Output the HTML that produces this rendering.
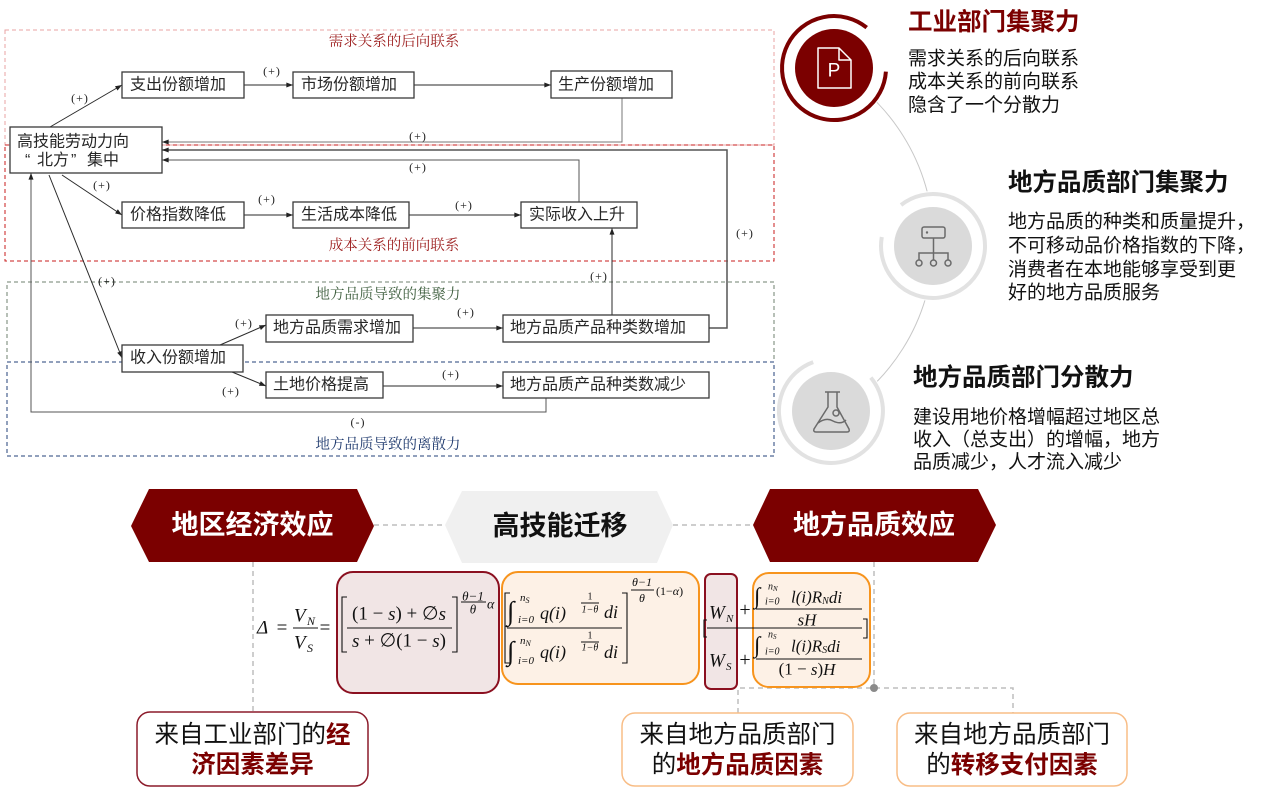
<!DOCTYPE html>
<html><head><meta charset="utf-8">
<style>
html,body{margin:0;padding:0;background:#fff;}
svg{display:block;}
.nd{font-family:"Liberation Sans","Noto Sans CJK SC",sans-serif;font-size:16px;fill:#262626;}
.lb{font-family:"Liberation Serif","Noto Serif CJK SC",serif;font-size:14.5px;}
.pl{font-family:"Liberation Serif","DejaVu Serif",serif;font-size:12px;fill:#222;letter-spacing:1px;}
.h{font-family:"Liberation Sans","Noto Sans CJK SC",sans-serif;font-size:24.5px;font-weight:bold;}
.b{font-family:"Liberation Sans","Noto Sans CJK SC",sans-serif;font-size:19px;fill:#111;}
.bn{font-family:"Liberation Sans","Noto Sans CJK SC",sans-serif;font-size:27px;font-weight:bold;}
.bx{font-family:"Liberation Sans","Noto Sans CJK SC",sans-serif;font-size:24.5px;fill:#111;}
.bx .r{font-weight:bold;fill:#7b0000;}
.m{font-family:"Liberation Serif","DejaVu Serif",serif;fill:#111;}
.i{font-style:italic;}
</style></head><body>
<svg width="1269" height="794" viewBox="0 0 1269 794" xmlns="http://www.w3.org/2000/svg">
<defs>
<marker id="a" viewBox="0 0 8 6" refX="8" refY="3" markerWidth="7" markerHeight="5" markerUnits="userSpaceOnUse" orient="auto"><path d="M0,0 L8,3 L0,6 z" fill="#222"/></marker>
</defs>
<rect width="1269" height="794" fill="#fff"/>

<!-- dashed group boxes -->
<rect x="5" y="30" width="769" height="115" fill="none" stroke="#e9a3a3" stroke-width="1" stroke-dasharray="4,3"/>
<rect x="5" y="145" width="769" height="116" fill="none" stroke="#c81e1e" stroke-width="1" stroke-dasharray="4,3"/>
<rect x="7" y="282" width="767" height="80" fill="none" stroke="#6f806f" stroke-width="1" stroke-dasharray="4,3"/>
<rect x="7" y="362" width="767" height="94" fill="none" stroke="#23407a" stroke-width="1" stroke-dasharray="4,3"/>

<text class="lb" x="394" y="42" text-anchor="middle" dominant-baseline="central" fill="#9c1c1c">需求关系的后向联系</text>
<text class="lb" x="394" y="246" text-anchor="middle" dominant-baseline="central" fill="#9c1c1c">成本关系的前向联系</text>
<text class="lb" x="388" y="295" text-anchor="middle" dominant-baseline="central" fill="#3f5f3f">地方品质导致的集聚力</text>
<text class="lb" x="388" y="445" text-anchor="middle" dominant-baseline="central" fill="#1f3a6e">地方品质导致的离散力</text>

<!-- connectors -->
<g stroke="#2a2a2a" stroke-width="1" fill="none">
<line x1="50" y1="127" x2="122" y2="85" marker-end="url(#a)"/>
<line x1="244" y1="85" x2="293" y2="85" marker-end="url(#a)"/>
<line x1="414" y1="85" x2="551" y2="85" marker-end="url(#a)"/>
<polyline points="622,98 622,142 162,142" stroke="#777" marker-end="url(#a)"/>
<polyline points="709,328 727,328 727,150 162,150" stroke="#555" stroke-width="1.5" marker-end="url(#a)"/>
<polyline points="579,202 579,160 162,160" stroke="#555" marker-end="url(#a)"/>
<line x1="62" y1="175" x2="122" y2="215" marker-end="url(#a)"/>
<line x1="244" y1="215" x2="293" y2="215" marker-end="url(#a)"/>
<line x1="409" y1="215" x2="521" y2="215" marker-end="url(#a)"/>
<line x1="612" y1="315" x2="612" y2="228" marker-end="url(#a)"/>
<line x1="49" y1="175" x2="122" y2="358" marker-end="url(#a)"/>
<line x1="220" y1="345" x2="266" y2="325" marker-end="url(#a)"/>
<line x1="232" y1="372" x2="266" y2="386" marker-end="url(#a)"/>
<line x1="413" y1="328" x2="503" y2="328" marker-end="url(#a)"/>
<line x1="383" y1="386" x2="503" y2="386" marker-end="url(#a)"/>
<polyline points="546,398 546,412 31,412 31,173" stroke="#555" marker-end="url(#a)"/>
</g>

<!-- (+) labels -->
<g class="pl" text-anchor="middle" dominant-baseline="central">
<text x="80" y="98">(+)</text>
<text x="272" y="71">(+)</text>
<text x="418" y="136">(+)</text>
<text x="418" y="167">(+)</text>
<text x="102" y="185">(+)</text>
<text x="267" y="199">(+)</text>
<text x="464" y="205">(+)</text>
<text x="745" y="233">(+)</text>
<text x="599" y="276">(+)</text>
<text x="107" y="281">(+)</text>
<text x="244" y="323">(+)</text>
<text x="231" y="391">(+)</text>
<text x="466" y="312">(+)</text>
<text x="451" y="374">(+)</text>
<text x="358" y="422">(-)</text>
</g>

<!-- nodes -->
<g fill="#fff" stroke="#3a3a3a" stroke-width="1.3">
<rect x="122" y="72" width="122" height="26"/>
<rect x="293" y="72" width="121" height="26"/>
<rect x="551" y="71" width="121" height="27"/>
<rect x="10" y="127" width="152" height="46"/>
<rect x="122" y="202" width="122" height="26"/>
<rect x="293" y="202" width="116" height="26"/>
<rect x="521" y="202" width="116" height="26"/>
<rect x="266" y="315" width="147" height="27"/>
<rect x="503" y="315" width="206" height="27"/>
<rect x="122" y="345" width="121" height="27"/>
<rect x="266" y="372" width="117" height="26"/>
<rect x="503" y="372" width="206" height="26"/>
</g>
<g class="nd" dominant-baseline="central">
<text x="130" y="85">支出份额增加</text>
<text x="301" y="85">市场份额增加</text>
<text x="558" y="85">生产份额增加</text>
<text x="17" y="142">高技能劳动力向</text>
<text y="160"><tspan x="25">“</tspan><tspan x="37">北方</tspan><tspan x="71">”</tspan><tspan x="87">集中</tspan></text>
<text x="130" y="215">价格指数降低</text>
<text x="301" y="215">生活成本降低</text>
<text x="529" y="215">实际收入上升</text>
<text x="273" y="328">地方品质需求增加</text>
<text x="510" y="328">地方品质产品种类数增加</text>
<text x="130" y="358">收入份额增加</text>
<text x="273" y="385">土地价格提高</text>
<text x="510" y="385">地方品质产品种类数减少</text>
</g>

<!-- right side circles -->
<path d="M834,69 A200,200 0 0 1 834,415" fill="none" stroke="#c8c8c8" stroke-width="1"/>
<circle cx="834" cy="68" r="55" fill="#fff"/>
<circle cx="933" cy="246" r="55" fill="#fff"/>
<circle cx="831" cy="411" r="55" fill="#fff"/>
<path d="M885.9,71.6 A52,52 0 1 1 866.7,27.6" fill="none" stroke="#7b0000" stroke-width="4"/>
<circle cx="834" cy="68" r="39" fill="#7b0000"/>
<path d="M901,205 A52,52 0 1 1 881.8,237" fill="none" stroke="#e2e2e2" stroke-width="4"/>
<circle cx="933" cy="246" r="39" fill="#dadada"/>
<path d="M870.8,377.6 A52,52 0 1 1 813.2,362.1" fill="none" stroke="#e2e2e2" stroke-width="4"/>
<circle cx="831" cy="411" r="39" fill="#dadada"/>

<!-- P doc icon -->
<path d="M818,48 H839 L851,60 V88 H818 Z M839,48 V60 H851" fill="none" stroke="#fff" stroke-width="1.5" stroke-linejoin="round"/>
<text x="834" y="71" text-anchor="middle" dominant-baseline="central" font-family="Liberation Sans, sans-serif" font-size="19" fill="#fff">P</text>

<!-- hierarchy icon -->
<g fill="none" stroke="#6a6a6a" stroke-width="1.5">
<rect x="922" y="227" width="23" height="11" rx="2"/>
<line x1="933.5" y1="238" x2="933.5" y2="253"/>
<polyline points="919,260 919,253 948,253 948,260"/>
<line x1="933.5" y1="253" x2="933.5" y2="260"/>
<circle cx="919" cy="263" r="3"/>
<circle cx="933.5" cy="263" r="3"/>
<circle cx="948" cy="263" r="3"/>
</g>
<circle cx="927" cy="232.5" r="1.2" fill="#6a6a6a"/>

<!-- flask icon -->
<g fill="none" stroke="#6a6a6a" stroke-width="1.5" stroke-linejoin="round">
<path d="M825,392 H840"/>
<path d="M828,392 V407 L814,429 Q813,432 816,432 H847 Q850,432 849,429 L837,407 V392"/>
<path d="M818,423 Q826,417 833,421 Q841,425 846,420"/>
<circle cx="836" cy="413" r="3"/>
</g>

<!-- right side text -->
<text class="h" x="908" y="22.5" dominant-baseline="central" fill="#7b0000">工业部门集聚力</text>
<g class="b" dominant-baseline="central">
<text x="908" y="59">需求关系的后向联系</text>
<text x="908" y="82">成本关系的前向联系</text>
<text x="908" y="105.5">隐含了一个分散力</text>
</g>
<text class="h" x="1008" y="183" dominant-baseline="central" fill="#111">地方品质部门集聚力</text>
<g class="b" dominant-baseline="central">
<text x="1008" y="222">地方品质的种类和质量提升，</text>
<text x="1008" y="246">不可移动品价格指数的下降，</text>
<text x="1008" y="270">消费者在本地能够享受到更</text>
<text x="1008" y="293">好的地方品质服务</text>
</g>
<text class="h" x="913" y="378" dominant-baseline="central" fill="#111">地方品质部门分散力</text>
<g class="b" dominant-baseline="central">
<text x="913" y="417.5">建设用地价格增幅超过地区总</text>
<text x="913" y="440">收入（总支出）的增幅，地方</text>
<text x="913" y="462.5">品质减少，人才流入减少</text>
</g>

<!-- dashed connectors lower -->
<g stroke="#bdbdbd" stroke-width="1.5" stroke-dasharray="5,4" fill="none">
<line x1="374" y1="525" x2="445" y2="525"/>
<line x1="673" y1="525" x2="753" y2="525"/>
<line x1="253" y1="562" x2="253" y2="712"/>
<line x1="874" y1="562" x2="874" y2="688"/>
<polyline points="738,713 738,688 1013,688 1013,713"/>
</g>
<circle cx="874" cy="688" r="4" fill="#8a8a8a"/>

<!-- banners -->
<polygon points="131,526 149,489 357,489 374,526 357,562 149,562" fill="#7b0000"/>
<polygon points="445,525 462,491 657,491 673,525 657,563 462,563" fill="#f0f0f0"/>
<polygon points="753,525 770,489 978,489 996,525 978,562 770,562" fill="#7b0000"/>
<text class="bn" x="252.5" y="525" text-anchor="middle" dominant-baseline="central" fill="#fff">地区经济效应</text>
<text class="bn" x="560" y="526" text-anchor="middle" dominant-baseline="central" fill="#111">高技能迁移</text>
<text class="bn" x="874" y="525" text-anchor="middle" dominant-baseline="central" fill="#fff">地方品质效应</text>

<!-- formula boxes -->
<rect x="337" y="572" width="162" height="121" rx="16" fill="#f1e5e5" stroke="#8b1020" stroke-width="2"/>
<rect x="502" y="572" width="197" height="112" rx="16" fill="#fdf1e6" stroke="#f7941d" stroke-width="2"/>
<rect x="705" y="574" width="32" height="115" rx="6" fill="#f1e5e5" stroke="#8b1020" stroke-width="2"/>
<rect x="753" y="573" width="117" height="114" rx="16" fill="#fdf1e6" stroke="#f7941d" stroke-width="2"/>

<!-- formula -->
<g class="m" dominant-baseline="central">
<text x="257" y="628" font-size="19" class="i">Δ</text>
<text x="282" y="628" font-size="19" text-anchor="middle">=</text>
<text x="294" y="616" font-size="19" class="i">V</text><text x="307" y="621" font-size="12" class="i">N</text>
<text x="294" y="643" font-size="19" class="i">V</text><text x="307" y="648" font-size="12" class="i">S</text>
<text x="325" y="628" font-size="19" text-anchor="middle">=</text>

<text x="399" y="614" font-size="19" text-anchor="middle">(1 − <tspan class="i">s</tspan>) + ∅<tspan class="i">s</tspan></text>
<text x="399" y="641" font-size="19" text-anchor="middle"><tspan class="i">s</tspan> + ∅(1 − <tspan class="i">s</tspan>)</text>
<text x="473" y="596" font-size="13" text-anchor="middle" class="i">θ−1</text>
<text x="473" y="609" font-size="13" text-anchor="middle" class="i">θ</text>
<text x="487" y="605" font-size="14" class="i">α</text>

<text x="507" y="611" font-size="27">∫</text>
<text x="520" y="598" font-size="11" class="i">n<tspan font-size="8" dy="2">S</tspan></text>
<text x="518" y="620" font-size="11" class="i">i=0</text>
<text x="540" y="613" font-size="18" class="i">q(i)</text>
<text x="590" y="597" font-size="10" text-anchor="middle">1</text>
<text x="590" y="610" font-size="10" text-anchor="middle" class="i">1−θ</text>
<text x="604" y="612" font-size="18" class="i">di</text>

<text x="507" y="651" font-size="27">∫</text>
<text x="520" y="641" font-size="11" class="i">n<tspan font-size="8" dy="2">N</tspan></text>
<text x="518" y="661" font-size="11" class="i">i=0</text>
<text x="540" y="652" font-size="18" class="i">q(i)</text>
<text x="590" y="636" font-size="10" text-anchor="middle">1</text>
<text x="590" y="648" font-size="10" text-anchor="middle" class="i">1−θ</text>
<text x="604" y="652" font-size="18" class="i">di</text>

<text x="642" y="582" font-size="12" text-anchor="middle" class="i">θ−1</text>
<text x="642" y="598" font-size="12" text-anchor="middle" class="i">θ</text>
<text x="656" y="591" font-size="12">(1−<tspan class="i">α</tspan>)</text>

<text x="709" y="613" font-size="19" class="i">W</text><text x="726" y="619" font-size="11" class="i">N</text>
<text x="709" y="661" font-size="19" class="i">W</text><text x="726" y="667" font-size="11" class="i">S</text>
<text x="745" y="610" font-size="20" text-anchor="middle">+</text>
<text x="745" y="660" font-size="20" text-anchor="middle">+</text>

<text x="754" y="596" font-size="23">∫</text>
<text x="768" y="587" font-size="10" class="i">n<tspan font-size="7" dy="2">N</tspan></text>
<text x="765" y="602" font-size="10" class="i">i=0</text>
<text x="791" y="597" font-size="17" class="i">l(i)R<tspan font-size="10" dy="4">N</tspan><tspan dy="-4">di</tspan></text>
<text x="807" y="620" font-size="17" text-anchor="middle" class="i">sH</text>

<text x="754" y="645" font-size="23">∫</text>
<text x="768" y="635" font-size="10" class="i">n<tspan font-size="7" dy="2">S</tspan></text>
<text x="765" y="652" font-size="10" class="i">i=0</text>
<text x="791" y="646" font-size="17" class="i">l(i)R<tspan font-size="10" dy="4">S</tspan><tspan dy="-4">di</tspan></text>
<text x="807" y="669" font-size="17" text-anchor="middle">(1 − <tspan class="i">s</tspan>)<tspan class="i">H</tspan></text>
</g>
<g stroke="#111" stroke-width="1.1" fill="none">
<line x1="293" y1="628" x2="318" y2="628"/>
<path d="M347,597 H342 V652 H347"/>
<path d="M452,597 H457 V652 H452"/>
<line x1="347" y1="628" x2="452" y2="628"/>
<line x1="461" y1="602" x2="486" y2="602"/>
<path d="M510,593 H505 V663 H510"/>
<path d="M622,593 H627 V663 H622"/>
<line x1="507" y1="628" x2="622" y2="628"/>
<line x1="581" y1="603" x2="599" y2="603"/>
<line x1="581" y1="642" x2="599" y2="642"/>
<line x1="631" y1="590" x2="654" y2="590"/>
<path d="M707,620 H704 V637 H707"/>
<line x1="707" y1="628" x2="862" y2="628"/>
<line x1="756" y1="609" x2="862" y2="609"/>
<line x1="756" y1="659" x2="862" y2="659"/>
<path d="M863,619 H867 V638 H863"/>
</g>

<!-- bottom boxes -->
<rect x="137" y="712" width="231" height="74" rx="13" fill="#fff" stroke="#8b1a2a" stroke-width="1.5"/>
<rect x="622" y="713" width="231" height="73" rx="13" fill="#fff" stroke="#f8bd86" stroke-width="1.5"/>
<rect x="897" y="713" width="230" height="73" rx="13" fill="#fff" stroke="#f8bd86" stroke-width="1.5"/>
<g class="bx" text-anchor="middle" dominant-baseline="central">
<text x="252.5" y="735">来自工业部门的<tspan class="r">经</tspan></text>
<text x="252.5" y="765" class="r">济因素差异</text>
<text x="737.5" y="735">来自地方品质部门</text>
<text x="737.5" y="765">的<tspan class="r">地方品质因素</tspan></text>
<text x="1012" y="735">来自地方品质部门</text>
<text x="1012" y="765">的<tspan class="r">转移支付因素</tspan></text>
</g>
</svg>
</body></html>
